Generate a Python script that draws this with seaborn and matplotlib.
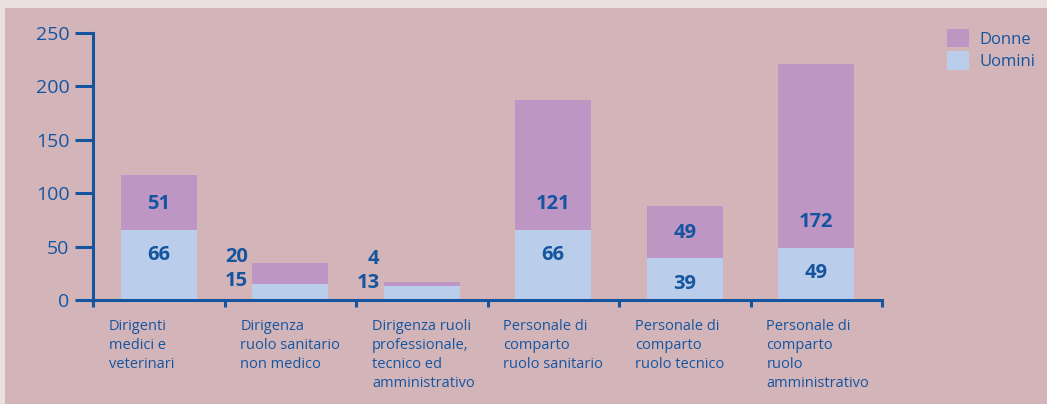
import matplotlib
matplotlib.use("Agg")
import matplotlib.pyplot as plt
from matplotlib.patches import Rectangle, Patch
import seaborn as sns
import pandas as pd

categorie = ["Dirigenti\nmedici e\nveterinari",
             "Dirigenza\nruolo sanitario\nnon medico",
             "Dirigenza ruoli\nprofessionale,\ntecnico ed\namministrativo",
             "Personale di\ncomparto\nruolo sanitario",
             "Personale di\ncomparto\nruolo tecnico",
             "Personale di\ncomparto\nruolo\namministrativo"]
uomini = [66, 15, 13, 66, 39, 49]
donne = [51, 20, 4, 121, 49, 172]
yticks = [0, 50, 100, 150, 200, 250]

bg = "#d3b5b9"
border = "#ebdfe0"
viola = "#bd96c4"
azzurro = "#bacdea"
blu = "#1555a0"

sns.set_style("white")
plt.rcParams['font.family'] = ['Open Sans', 'DejaVu Sans']

df = pd.DataFrame({"categoria": categorie, "uomini": uomini, "donne": donne})
df["totale"] = df["uomini"] + df["donne"]

fig = plt.figure(figsize=(10.47, 4.04), dpi=100, facecolor=border)
fig.patches.append(Rectangle((5 / 1047, 0), 1, (404 - 8) / 404, transform=fig.transFigure,
                             facecolor=bg, edgecolor="none", zorder=-1))
ax = fig.add_axes([93 / 1047, 104 / 404, (882 - 93) / 1047, 267 / 404])
ax.set_facecolor("none")

bw = 0.58
sns.barplot(data=df, x="categoria", y="totale", color=viola, saturation=1, width=bw,
            linewidth=0, ax=ax)
sns.barplot(data=df, x="categoria", y="uomini", color=azzurro, saturation=1, width=bw,
            linewidth=0, ax=ax)

ax.set_xlim(-0.5, len(categorie) - 0.5)
ax.set_ylim(0, 250)
ax.set_yticks(yticks)
ax.set_xticks([i - 0.5 for i in range(len(categorie) + 1)])
ax.set_xticklabels([])
ax.set_xlabel("")
ax.set_ylabel("")
for s in ["top", "right"]:
    ax.spines[s].set_visible(False)
for s in ["left", "bottom"]:
    ax.spines[s].set_color(blu)
    ax.spines[s].set_linewidth(2.2)
ax.tick_params(axis="y", left=True, length=13, width=2.2, color=blu, labelcolor=blu,
               labelsize=14, pad=4, direction="out")
ax.tick_params(axis="x", bottom=True, length=5, width=2.2, color=blu, direction="out")

# etichette delle categorie, allineate a sinistra
for i, lab in enumerate(categorie):
    ax.annotate(lab, xy=(i - 0.5, 0), xycoords=("data", "axes fraction"),
                xytext=(11.5, -14), textcoords="offset points", ha="left", va="top",
                fontsize=10.5, color=blu, linespacing=1.35)

# valori
for i, (u, d) in enumerate(zip(uomini, donne)):
    if u + d > 50:
        ax.text(i, u - 24, str(u), ha="center", va="center", fontsize=14.5,
                fontweight="bold", color=blu)
        ax.text(i, u + 24, str(d), ha="center", va="center", fontsize=14.5,
                fontweight="bold", color=blu)
    else:
        x0 = i - bw / 2
        ax.annotate(str(u), xy=(x0, u + 3), xytext=(-3, 0), textcoords="offset points",
                    ha="right", va="center", fontsize=14.5, fontweight="bold", color=blu)
        ax.annotate(str(d), xy=(x0, u + 25), xytext=(-3, 0), textcoords="offset points",
                    ha="right", va="center", fontsize=14.5, fontweight="bold", color=blu)

handles = [Patch(facecolor=viola, edgecolor="none", label="Donne"),
           Patch(facecolor=azzurro, edgecolor="none", label="Uomini")]
fig.legend(handles=handles, loc="upper left", bbox_to_anchor=(940 / 1047, 1 - 22 / 404),
           frameon=False, fontsize=12, handlelength=1.35, handleheight=1.35,
           handletextpad=0.6, labelspacing=0.2, labelcolor=blu, borderaxespad=0)

fig.savefig("out.png", dpi=100, facecolor=border)
